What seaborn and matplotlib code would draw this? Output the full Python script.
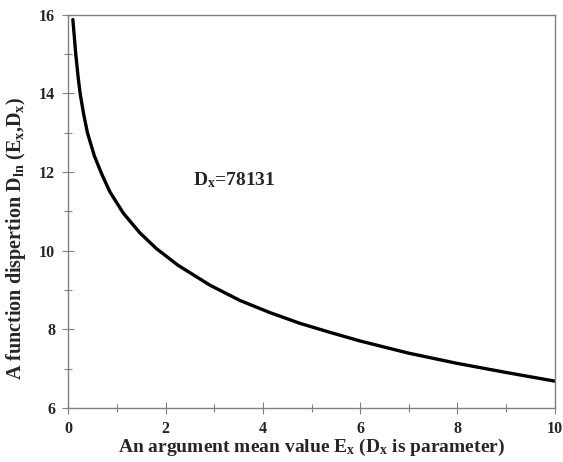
import matplotlib
matplotlib.use("Agg")
import matplotlib.pyplot as plt
import seaborn as sns
import pandas as pd
from matplotlib.ticker import MultipleLocator

ex = [0.09, 0.12, 0.15, 0.20, 0.24, 0.31, 0.39, 0.53, 0.68, 0.85, 1.13, 1.47, 1.81, 2.25,
      2.91, 3.53, 4.15, 4.76, 5.38, 6.00, 7.00, 8.00, 9.00, 10.00]
dln = [15.88, 15.45, 15.00, 14.40, 14.00, 13.49, 13.00, 12.42, 11.96, 11.50, 10.95, 10.45, 10.05, 9.63,
       9.12, 8.73, 8.42, 8.15, 7.92, 7.70, 7.39, 7.13, 6.90, 6.68]
annotation = "D$_{\\rm x}$=78131"
xlabel = "An argument mean value E$_{\\rm x}$ (D$_{\\rm x}$ is parameter)"
ylabel = "A function dispertion D$_{\\rm ln}$ (E$_{\\rm x}$,D$_{\\rm x}$)"

sns.set_style("ticks")
plt.rcParams["font.family"] = ["Liberation Serif", "DejaVu Serif"]
plt.rcParams["font.weight"] = "bold"
plt.rcParams["mathtext.fontset"] = "custom"
plt.rcParams["mathtext.rm"] = "Liberation Serif:bold"
plt.rcParams["mathtext.it"] = "Liberation Serif:bold"
plt.rcParams["mathtext.bf"] = "Liberation Serif:bold"

df = pd.DataFrame({"Ex": ex, "Dln": dln})

fig = plt.figure(figsize=(5.63, 4.62), dpi=100)
ax = fig.add_axes([0.1216, 0.1173, 0.8634, 0.8507])
sns.lineplot(data=df, x="Ex", y="Dln", ax=ax, color="black", linewidth=2.4)

ax.set_xlim(0, 10)
ax.set_ylim(6, 16)
ax.xaxis.set_major_locator(MultipleLocator(2))
ax.xaxis.set_minor_locator(MultipleLocator(1))
ax.yaxis.set_major_locator(MultipleLocator(2))
ax.yaxis.set_minor_locator(MultipleLocator(1))
for s in ax.spines.values():
    s.set_visible(True)
    s.set_color("#808080")
    s.set_linewidth(1.0)
ax.tick_params(which="major", direction="inout", length=9, width=0.8, color="#808080",
               labelsize=11.5)
ax.tick_params(which="minor", direction="inout", length=6, width=0.8, color="#808080")
ax.tick_params(axis="x", which="major", pad=5)
ax.tick_params(axis="y", which="major", pad=5)
for lab in ax.get_xticklabels() + ax.get_yticklabels():
    lab.set_fontweight("bold")

ax.set_xlabel(xlabel, fontsize=14, fontweight="bold", labelpad=0)
ax.set_ylabel(ylabel, fontsize=14.5, fontweight="bold")
ax.yaxis.set_label_coords(-0.083, 0.43)
ax.text(2.57, 11.78, annotation, fontsize=14, fontweight="bold", va="center", ha="left")

fig.savefig("out.png", dpi=100)
